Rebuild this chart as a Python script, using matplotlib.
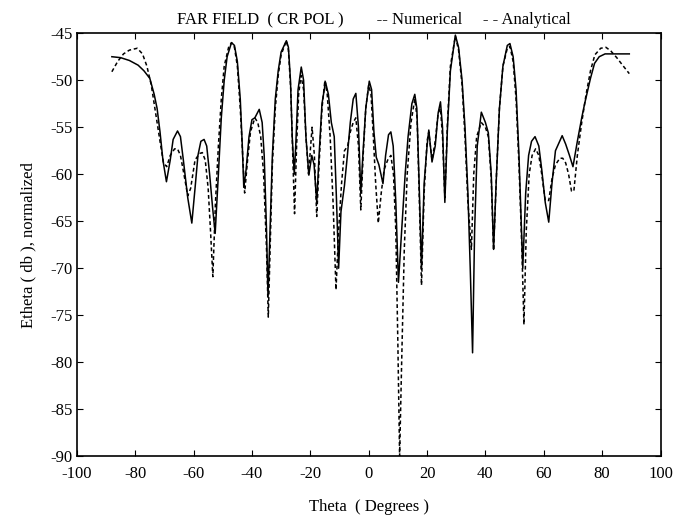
import matplotlib
matplotlib.use("Agg")
import matplotlib.pyplot as plt

plt.rcParams['font.family'] = ['Liberation Serif', 'DejaVu Serif']
plt.rcParams['axes.unicode_minus'] = False

# Numerical (solid) curve
theta_num = [-88, -85, -82, -79, -77, -75, -73.5, -72.5, -71.5, -70.5, -69.3, -68, -67, -65.5, -64.5,
             -63.5, -62, -60.6, -59.5, -58.5, -57.5, -56.4, -55.5, -54.5, -53.5, -52.6, -51.5, -50.5,
             -49.5, -48.5, -47, -46, -45, -44, -43.3, -42.8, -42, -41, -40, -39, -37.5, -36.5, -35.8,
             -35, -34.5, -33.8, -33, -32, -31, -30, -28.2, -27.5, -26.8, -26.2, -25.5, -25, -24.2,
             -23.1, -22.3, -21.5, -20.5, -19.5, -18.7, -17.8, -17, -16, -14.8, -13.8, -12.8, -11.8,
             -11, -10.3, -9.5, -8.3, -7.3, -6.3, -5.3, -4.4, -3.5, -2.7, -2, -1, 0.2, 1, 1.8, 2.6,
             3.5, 4.9, 5.8, 6.8, 7.6, 8.4, 9.3, 10.2, 11.3, 12.5, 13.5, 14.8, 15.8, 16.5, 17.2, 18.1,
             19, 20, 20.6, 21.7, 22.8, 23.8, 24.6, 25.3, 26.1, 27, 28, 29.7, 30.8, 32, 33, 34, 34.8,
             35.6, 36.3, 37.2, 38.6, 40, 41, 42, 42.8, 43.8, 44.8, 46, 47.5, 48.4, 49.5, 50.5, 51.5,
             52.8, 53.8, 54.8, 55.8, 57, 58.3, 59.3, 60.5, 61.7, 62.8, 64, 66.3, 67.5, 68.8, 70,
             71.5, 73, 74, 76, 77.4, 79, 81, 85, 89.3]
etheta_num = [-47.5, -47.6, -47.9, -48.4, -49.0, -49.8, -51.5, -53.0, -55.5, -58.5, -60.8, -58.5, -56.3,
              -55.4, -56.0, -58.5, -62.5, -65.2, -61.5, -58.0, -56.5, -56.3, -57.0, -60.0, -63.5, -66.3,
              -60.0, -54.0, -50.0, -47.5, -46.0, -46.3, -48.0, -52.0, -57.0, -61.4, -59.5, -56.0, -54.2,
              -54.0, -53.1, -54.5, -58.0, -66.0, -73.0, -66.0, -58.0, -52.0, -49.0, -47.0, -45.8, -46.5,
              -50.0, -56.0, -60.0, -57.0, -51.0, -48.6, -50.0, -56.0, -60.1, -58.0, -59.0, -63.0, -58.0,
              -52.5, -50.2, -51.5, -54.5, -56.0, -63.0, -70.0, -64.0, -61.2, -58.0, -54.5, -52.0, -51.4,
              -55.0, -62.0, -58.0, -53.0, -50.1, -51.0, -55.5, -58.2, -59.0, -61.0, -58.0, -55.8, -55.5,
              -57.0, -63.0, -71.5, -66.0, -60.0, -56.0, -52.5, -51.5, -53.0, -60.0, -70.0, -61.0, -57.0,
              -55.3, -58.7, -57.0, -53.5, -52.3, -55.0, -63.0, -55.0, -49.0, -45.2, -46.5, -50.0, -55.0,
              -62.0, -70.0, -79.0, -66.0, -57.0, -53.4, -54.5, -55.6, -60.0, -68.0, -60.0, -53.0, -48.5,
              -46.3, -46.1, -47.5, -51.0, -58.0, -70.0, -62.0, -58.0, -56.5, -56.0, -57.0, -59.5, -63.0,
              -65.1, -61.0, -57.5, -55.9, -56.8, -58.0, -59.2, -56.5, -54.0, -52.5, -49.8, -48.2, -47.5,
              -47.2, -47.2, -47.2]

# Analytical (dashed) curve
theta_ana = [-88, -86, -84, -82, -79.3, -77.5, -76, -74.5, -73, -71.5, -70.3, -69.2, -68, -66.5, -65.5,
             -64.5, -63.3, -62, -61, -59.5, -58, -57, -56, -55, -54.2, -53.4, -52.5, -51.5, -50.5,
             -49.5, -48, -47, -46, -45, -44, -43, -42.5, -41.5, -40.5, -39, -38, -37, -36, -35, -34.4,
             -33.7, -33, -32, -31, -30, -28.2, -27.5, -26.7, -26, -25.4, -24.7, -24, -23.2, -22.3,
             -21.5, -20.6, -19.4, -18.6, -17.8, -17, -16, -15, -14.2, -13.2, -12.2, -11.2, -10.3,
             -9.3, -8.3, -7.2, -6.3, -5.3, -4.4, -3.5, -2.7, -1.9, -1, 0, 0.8, 1.6, 2.4, 3.3, 4.3,
             5.3, 6.5, 7.6, 8.5, 9.3, 10, 10.6, 11.3, 12.2, 13.2, 14.5, 15.8, 16.6, 17.3, 18.1, 19,
             20, 20.6, 21.7, 22.8, 23.8, 24.6, 25.3, 26.1, 27, 28, 29.7, 30.8, 32, 33, 34, 35.2, 36,
             37, 38.6, 40, 41, 42, 42.8, 43.8, 44.8, 46, 47.5, 48.4, 49.5, 50.5, 51.5, 52.5, 53.2, 54,
             55, 56, 57.2, 58.3, 59.3, 60.5, 61.7, 62.8, 64, 65.5, 66.5, 67.5, 68.5, 69.5, 70.3,
             71.5, 73, 74.5, 76, 77.5, 79.5, 81.3, 83, 85, 87, 89.3]
etheta_ana = [-49.1, -48.0, -47.2, -46.8, -46.6, -47.2, -48.5, -50.5, -53.5, -56.5, -58.8, -59.2, -58.0,
              -57.3, -57.3, -58.0, -60.0, -62.3, -61.5, -58.5, -57.8, -57.7, -58.5, -61.5, -66.0, -70.9,
              -63.0, -57.0, -52.0, -48.5, -46.5, -46.0, -46.5, -48.5, -53.0, -59.0, -62.0, -58.5, -55.5,
              -54.0, -54.5, -56.0, -60.0, -68.0, -75.2, -67.0, -59.0, -53.0, -49.5, -47.3, -45.8, -46.8,
              -51.0, -58.0, -64.2, -57.0, -51.5, -49.5, -51.0, -56.0, -60.0, -55.0, -58.0, -64.5, -59.0,
              -53.0, -50.0, -51.5, -56.0, -63.0, -72.3, -66.0, -61.0, -57.5, -57.0, -55.5, -54.5, -54.0,
              -57.0, -63.8, -58.0, -53.0, -50.5, -51.5, -56.0, -61.0, -65.2, -62.0, -59.5, -58.5, -58.0,
              -60.0, -66.0, -78.0, -90.0, -80.0, -68.0, -60.0, -54.5, -52.0, -54.0, -62.0, -71.8, -62.0,
              -56.5, -55.5, -58.5, -56.5, -53.5, -53.0, -56.0, -62.5, -54.5, -48.5, -45.3, -46.8, -50.5,
              -56.0, -63.0, -68.0, -60.0, -56.0, -54.5, -55.0, -56.0, -60.5, -68.1, -60.0, -53.0, -48.5,
              -46.6, -46.4, -48.0, -52.0, -59.0, -68.0, -76.0, -66.0, -60.0, -58.0, -57.3, -58.0, -60.0,
              -62.8, -62.8, -60.5, -59.0, -58.3, -58.3, -58.8, -60.0, -61.8, -61.8, -58.0, -54.5, -51.5,
              -49.0, -47.3, -46.6, -46.5, -46.9, -47.6, -48.4, -49.3]

fig = plt.figure(figsize=(6.74, 5.19), dpi=100)
ax = fig.add_axes([0.114, 0.121, 0.866, 0.815])

ax.plot(theta_num, etheta_num, color='black', linewidth=1.1)
ax.plot(theta_ana, etheta_ana, color='black', linewidth=1.1, linestyle=(0, (2.5, 1.8)))

ax.set_xlim(-100, 100)
ax.set_ylim(-90, -45)
ax.set_xticks(range(-100, 101, 20))
ax.set_yticks(range(-90, -44, 5))
ax.tick_params(direction='in', length=4, top=True, right=True, labelsize=12)
ax.tick_params(axis='x', pad=7)
ax.tick_params(axis='y', pad=3)
for s in ax.spines.values():
    s.set_linewidth(1.2)

ax.set_xlabel('Theta  ( Degrees )', fontsize=12, labelpad=12)
ax.set_ylabel('Etheta ( db ), normalized', fontsize=12, labelpad=10)
fig.text(0.555, 0.962, 'FAR FIELD  ( CR POL )        -- Numerical     - - Analytical',
         ha='center', va='center', fontsize=12)

fig.savefig('out.png', dpi=100)
